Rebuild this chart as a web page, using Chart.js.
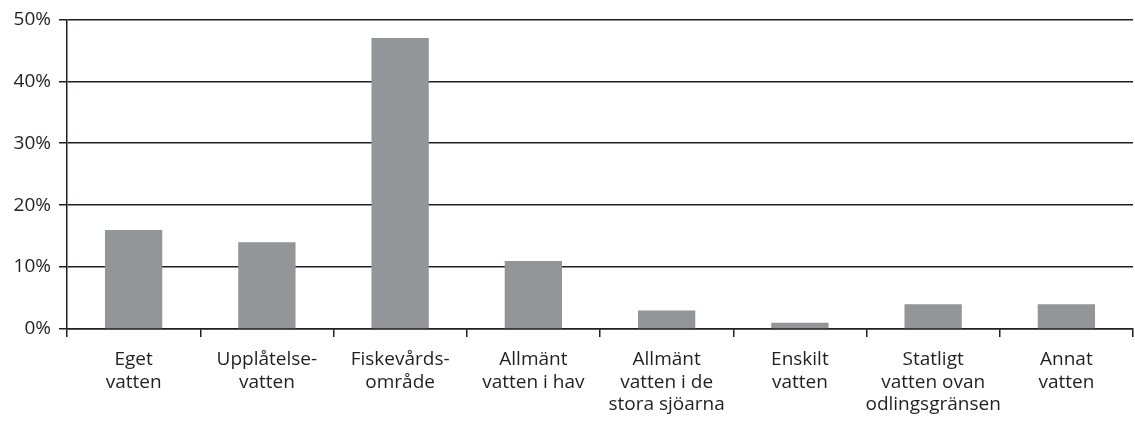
<!DOCTYPE html>
<html>
<head>
<meta charset="utf-8">
<script src="https://cdn.jsdelivr.net/npm/chart.js@4/dist/chart.umd.min.js"></script>
<style>
  html, body { margin: 0; padding: 0; background: #fff; }
  #wrap { width: 1135px; height: 424px; }
</style>
</head>
<body>
<div id="wrap"><canvas id="myChart"></canvas></div>
<script>
// data
var categories = [
    ['Eget', 'vatten'],
    ['Upplåtelse-', 'vatten'],
    ['Fiskevårds-', 'område'],
    ['Allmänt', 'vatten i hav'],
    ['Allmänt', 'vatten i de', 'stora sjöarna'],
    ['Enskilt', 'vatten'],
    ['Statligt', 'vatten ovan', 'odlingsgränsen'],
    ['Annat', 'vatten']
];
var shares = [16, 14, 47, 11, 3, 1, 4, 4];
var yTicks = [0, 10, 20, 30, 40, 50];

var ink = '#231f20';

var ctx = document.getElementById('myChart').getContext('2d');
var chart = new Chart(ctx, {
    type: 'bar',
    data: {
        labels: categories,
        datasets: [{
            data: shares,
            backgroundColor: '#939598',
            borderWidth: 0,
            categoryPercentage: 1,
            barPercentage: 0.43
        }]
    },
    options: {
        responsive: true,
        maintainAspectRatio: false,
        animation: false,
        layout: { padding: { top: 13, right: 2, left: 0, bottom: 0 } },
        plugins: {
            legend: { display: false },
            tooltip: { enabled: false }
        },
        scales: {
            x: {
                offset: true,
                afterFit: function(axis) { axis.height = 95; },
                grid: {
                    offset: true,
                    drawOnChartArea: false,
                    color: ink,
                    lineWidth: 1.5,
                    tickLength: 8
                },
                border: { color: ink, width: 1.5 },
                ticks: {
                    color: ink,
                    padding: 11,
                    maxRotation: 0,
                    autoSkip: false,
                    font: { family: 'Open Sans', size: 19 }
                }
            },
            y: {
                min: 0,
                max: 50,
                afterBuildTicks: function(axis) {
                    axis.ticks = yTicks.map(function(v) { return { value: v }; });
                },
                afterFit: function(axis) { axis.width = 67; },
                grid: {
                    color: ink,
                    lineWidth: 1.5,
                    tickLength: 8
                },
                border: { color: ink, width: 1.5 },
                ticks: {
                    color: ink,
                    padding: 8,
                    font: { family: 'Open Sans', size: 19 },
                    callback: function(v) { return v + '%'; }
                }
            }
        }
    }
});
</script>
</body>
</html>
